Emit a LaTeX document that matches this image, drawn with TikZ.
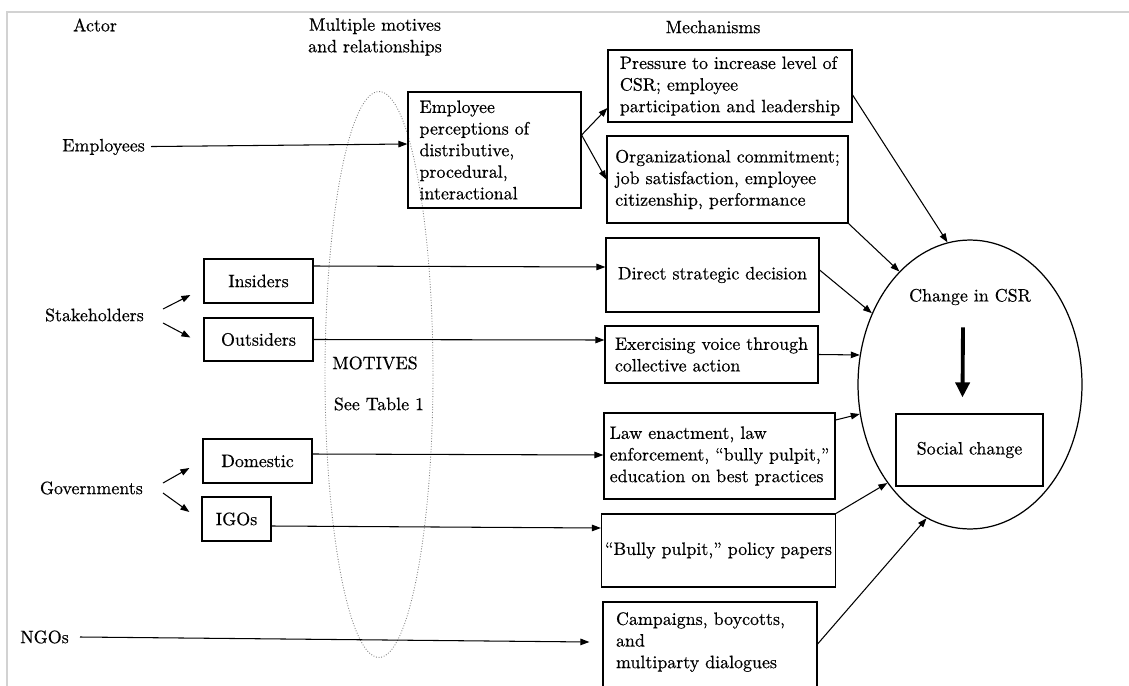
\documentclass[tikz,border=0pt]{standalone}
\usepackage{fontspec}
\setmainfont{Latin Modern Roman}[FakeBold=0.5]
\usetikzlibrary{arrows.meta,shapes.geometric}

\tikzset{
  bx/.style 2 args={draw, line width=.7pt, align=left, inner sep=2pt,
    minimum width=#1, minimum height=#2},
  arr/.style={line width=.6pt, -{Triangle[length=1.8mm,width=1.3mm]}},
  actor/.style={anchor=east}
}

\begin{document}
\begin{tikzpicture}[x=0.02cm, y=-0.02cm, font=\fontsize{10.2}{12.3}\selectfont]
      \useasboundingbox (0,0) rectangle (1129,686);
      \clip (0,0) rectangle (1129,686);
      \draw[gray!35, line width=.6pt] (7,700) -- (7,12) -- (1140,12);

      \node (act) at (95,25) {Actor};
      \node[align=center] (mm) at (375,37) {Multiple motives\\and relationships};
      \node (mech) at (713,27) {Mechanisms};

      \node[ellipse, draw=gray, densely dotted, line width=.5pt,
        minimum width=2.16cm, minimum height=11.32cm] (mot) at (379,374.5) {};
      \node (motv) at (375,363) {MOTIVES};
      \node (tab) at (379,404) {See Table 1};

      \node[actor] (emp) at (151,147) {Employees};
      \node[actor] (stk) at (150,315) {Stakeholders};
      \node[actor] (gov) at (149,488) {Governments};
      \node[actor] (ngo) at (75,637) {NGOs};

      \node[bx={2.18cm}{.88cm}] (ins) at (258.5,281) {Insiders};
      \node[bx={2.18cm}{.86cm}] (outs) at (258.5,339.5) {Outsiders};
      \node[bx={2.18cm}{.88cm}] (dom) at (257.5,461) {Domestic};
      \node[bx={1.38cm}{.88cm}] (igo) at (236.5,519) {IGOs};

      \node[bx={3.46cm}{2.32cm}, text width=3cm] (perc) at (494.5,150)
        {Employee\\perceptions of\\distributive,\\procedural,\\interactional};

      \node[bx={4.88cm}{1.44cm}] (press) at (730,86)
        {Pressure to increase level of\\CSR; employee\\participation and leadership};
      \node[bx={4.82cm}{1.74cm}] (org) at (727.5,179.5)
        {Organizational commitment;\\job satisfaction, employee\\citizenship, performance};
      \node[bx={4.26cm}{1.48cm}] (dir) at (712.5,275) {Direct strategic decision};
      \node[bx={4.26cm}{1.14cm}] (exer) at (711.5,354.5)
        {Exercising voice through\\collective action};
      \node[bx={4.62cm}{1.72cm}] (law) at (719.5,456)
        {Law enactment, law\\enforcement, “bully pulpit,”\\education on best practices};
      \node[bx={4.62cm}{1.46cm}] (bully) at (718.5,550.5) {“Bully pulpit,” policy papers};
      \node[bx={4.28cm}{1.96cm}, text width=3.76cm] (camp) at (710,651)
        {Campaigns, boycotts,\\and\\multiparty dialogues\\\mbox{}};

      \node[ellipse, draw, line width=.7pt, minimum width=4.48cm,
        minimum height=5.78cm] (csr) at (970,384.5) {};
      \node (chg) at (970,297) {Change in CSR};
      \node[bx={2.94cm}{1.44cm}, align=center] (soc) at (969.5,450) {Social change};

      \draw[arr] (emp) -- ([yshift=.12cm]perc.west);
      \draw[arr] ([yshift=.3cm]perc.east) -- ([yshift=-.44cm]press.west);
      \draw[arr] ([yshift=.3cm]perc.east) -- (org.west);

      \draw[arr] ([shift={(.26cm,.12cm)}]stk.east) -- ([shift={(-.26cm,-.28cm)}]ins.west);
      \draw[arr] ([shift={(.26cm,-.16cm)}]stk.east) -- ([shift={(-.26cm,.04cm)}]outs.west);
      \draw[arr] ([shift={(.28cm,.1cm)}]gov.east) -- ([shift={(-.26cm,-.14cm)}]dom.west);
      \draw[arr] ([shift={(.28cm,-.1cm)}]gov.east) -- ([shift={(-.24cm,.14cm)}]igo.west);

      \draw[arr] ([yshift=.3cm]ins.east) -- ([yshift=.16cm]dir.west);
      \draw[arr] (outs.east) -- ([yshift=.29cm]exer.west);
      \draw[arr] ([yshift=.14cm]dom.east) -- ([yshift=.02cm]law.west);
      \draw[arr] ([yshift=-.14cm]igo.east) -- ([yshift=.45cm]bully.west);
      \draw[arr] ([xshift=.1cm]ngo.east) -- ([shift={(-.26cm,.18cm)}]camp.west);

      \draw[arr] ([yshift=-.18cm]press.east) -- (csr.99);
      \draw[arr] (org.south east) -- (csr.122);
      \draw[arr] ([yshift=.1cm]dir.east) -- (csr.144);
      \draw[arr] (exer.east) -- (csr.165);
      \draw[arr] ([yshift=.72cm]law.east) -- (csr.195);
      \draw[arr] (bully.north east) -- (csr.230);
      \draw[arr] ([yshift=.14cm]camp.east) -- (csr.252);

      \draw[line width=2.2pt, -{Triangle[length=3mm,width=2.8mm]}]
        ([xshift=-.14cm, yshift=-.32cm]chg.south) -- ([xshift=-.14cm, yshift=.32cm]soc.north);
\end{tikzpicture}
\end{document}
